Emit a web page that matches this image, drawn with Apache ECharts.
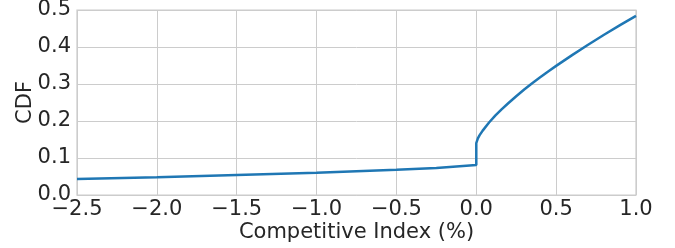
<!DOCTYPE html>
<html>
<head>
<meta charset="utf-8">
<script src="https://cdn.jsdelivr.net/npm/echarts@6/dist/echarts.min.js"></script>
<style>
  html, body { margin: 0; padding: 0; background: #fff; }
  #chart { width: 675px; height: 248px; }
</style>
</head>
<body>
<div id="chart"></div>
<script>
const indexValues = [-2.5, -2.0, -1.5, -1.0, -0.5, -0.25, 0.0, 0.0, 0.01, 0.02, 0.04, 0.08, 0.12, 0.16, 0.2, 0.25, 0.3, 0.35, 0.4, 0.45, 0.5, 0.6, 0.7, 0.8, 0.9, 1.0];
const cdfValues = [0.043, 0.048, 0.054, 0.060, 0.068, 0.073, 0.081, 0.140, 0.153, 0.161, 0.174, 0.196, 0.215, 0.232, 0.248, 0.267, 0.285, 0.302, 0.318, 0.334, 0.349, 0.378, 0.406, 0.433, 0.459, 0.484];

const myChart = echarts.init(document.getElementById("chart"));
const fontFamily = "DejaVu Sans";
const textColor = "#262626";

// 一位小数，负号用真正的减号
const fmt = (v) => v.toFixed(1).replace("-", "\u2212");

let option = {
  animation: false,
  grid: {
    left: 77,
    right: 39,
    top: 10,
    bottom: 53,
    outerBoundsMode: "none",
    show: true,
    borderColor: "#cccccc",
    borderWidth: 1.25,
  },
  xAxis: {
    type: "value",
    min: -2.5,
    max: 1.0,
    interval: 0.5,
    name: "Competitive Index (%)",
    nameLocation: "middle",
    nameGap: 27,
    nameMoveOverlap: false,
    nameTextStyle: { fontFamily, fontSize: 21, color: textColor },
    axisLine: { show: false },
    axisTick: { show: false },
    axisLabel: { formatter: fmt, fontFamily, fontSize: 21, color: textColor, margin: 4 },
    splitLine: { show: true, lineStyle: { color: "#cccccc", width: 1 } },
  },
  yAxis: {
    type: "value",
    min: 0,
    max: 0.5,
    interval: 0.1,
    name: "CDF",
    nameLocation: "middle",
    nameGap: 41,
    nameMoveOverlap: false,
    nameTextStyle: { fontFamily, fontSize: 21, color: textColor },
    axisLine: { show: false },
    axisTick: { show: false },
    axisLabel: { formatter: fmt, fontFamily, fontSize: 21, color: textColor, margin: 6 },
    splitLine: { show: true, lineStyle: { color: "#cccccc", width: 1 } },
  },
  series: [
    {
      type: "line",
      data: indexValues.map((x, i) => [x, cdfValues[i]]),
      showSymbol: false,
      smooth: false,
      lineStyle: { color: "#1f77b4", width: 2.5 },
    },
  ],
};
myChart.setOption(option);
</script>
</body>
</html>
